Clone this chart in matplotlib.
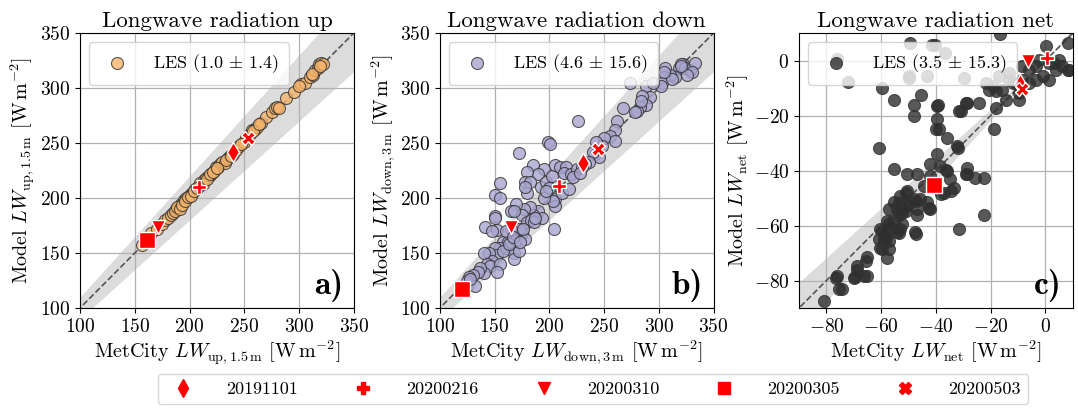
import numpy as np
import matplotlib
matplotlib.use("Agg")
import matplotlib.pyplot as plt
from matplotlib.lines import Line2D

plt.rcParams["font.family"] = "cmr10"
plt.rcParams["mathtext.fontset"] = "cm"
plt.rcParams["axes.formatter.use_mathtext"] = True
plt.rcParams["axes.unicode_minus"] = True

# ===============================
# DATA
# ===============================
# panel a: LW up
up_obs = [157, 160, 165, 170, 175, 178, 180, 183, 185, 188, 190, 192, 195, 197, 200,
          202, 205, 208, 210, 213, 215, 218, 220, 222, 224, 226, 228, 230, 232, 235,
          237, 240, 242, 245, 250, 252, 255, 257, 260, 262, 265, 270, 275, 278, 280,
          288, 295, 302, 305, 310, 313, 315, 317, 318, 320, 322,
          187, 189, 191, 193, 196, 199, 201, 204, 207, 212, 216, 219, 221, 225, 233,
          238, 247, 258, 263, 282, 300, 312, 319]
up_les = [157, 162, 168, 172, 176, 180, 182, 185, 186, 190, 192, 195, 198, 200, 203,
          205, 208, 210, 214, 216, 218, 220, 222, 225, 228, 228, 231, 233, 232, 236,
          238, 240, 244, 247, 251, 255, 258, 262, 263, 265, 268, 274, 278, 282, 283,
          291, 296, 304, 305, 310, 312, 316, 318, 322, 323, 322,
          188, 192, 190, 194, 197, 201, 202, 206, 209, 213, 217, 222, 224, 227, 235,
          238, 249, 261, 267, 282, 302, 313, 320]

# panel b: LW down
down_obs = [322, 318, 320, 324, 328, 333, 330, 315, 310, 306, 305, 303, 302, 312, 326, 320,
            274, 305, 288, 292, 295, 285, 288, 283, 280, 278, 284,
            267, 262, 260, 255, 260, 250, 248, 243, 242, 245, 240, 236, 233,
            226, 199, 201, 172,
            185, 195, 190, 180, 178, 182, 180, 178, 192, 197, 200, 202, 205, 210, 215, 213,
            220, 225, 230, 222, 228, 205, 205, 203, 204, 195, 197, 190, 193, 185, 182, 177,
            175, 180, 183, 186, 170, 165, 168, 155, 150, 155, 150, 150, 152, 141, 148, 158,
            160, 162, 165, 168, 168, 172, 170, 175, 178, 172, 165, 160, 155, 150, 152, 145,
            148, 140, 143, 146, 155, 152, 140, 137, 135, 130, 127, 125, 125, 122, 132, 128,
            158, 163, 167, 173, 176, 187, 212, 218]
down_les = [322, 318, 322, 318, 316, 323, 315, 310, 312, 318, 310, 305, 302, 308, 312, 320,
            305, 315, 302, 292, 305, 293, 285, 283, 279, 278, 288,
            282, 270, 262, 256, 252, 255, 247, 251, 240, 237, 242, 233, 231,
            270, 251, 249, 241,
            230, 226, 222, 224, 215, 215, 205, 210, 210, 215, 209, 220, 230, 228, 228, 223,
            222, 226, 228, 219, 223, 199, 193, 197, 172, 200, 206, 188, 182, 185, 192, 190,
            185, 178, 180, 178, 195, 188, 188, 214, 203, 200, 184, 182, 171, 174, 170, 160,
            155, 160, 160, 150, 145, 152, 162, 168, 163, 172, 172, 170, 155, 155, 148, 150,
            143, 150, 140, 138, 140, 133, 132, 136, 133, 130, 128, 125, 120, 118, 120, 126,
            152, 158, 165, 160, 172, 182, 205, 208]

# panel c: LW net
net_obs = [-76.0, -72.2, -49.3, -50.0, -40.2, -36.6, -41.3, -59.6, -49.9, -43.2, -55.3, -48.0,
           -45.6, -48.0, -60.8, -16.7, -29.9,
           -29.0, -31.5, -39.4, -38.8, -24.2, -18.0, -18.7, -32.0, -36.4,
           -21.8, -19.3, -15.7, -12.0, -8.4, -6.0, -3.5, -1.0, 1.4, 3.8, 6.2, 8.7, 5.0, 0.1,
           -3.5, -6.0, -9.6, -9.6, -14.5, -13.2, -16.9, -20.5, -18.0, -13.2, -10.8, -8.4,
           -2.3, 1.4, 3.2, 8.4, 8.4,
           -39.6, -39.6, -39.8, -36.0, -31.0, -28.7, -28.7, -28.7, -25.6, -22.6, -32.3,
           -22.4, -31.7, -55.4, -50.6, -46.9, -42.0, -39.6, -38.4, -36.0, -34.7, -33.5,
           -37.2, -42.0, -44.5, -50.6, -53.0, -55.4, -57.3, -54.2, -52.4, -50.6, -48.0,
           -46.9, -45.7, -43.3, -42.0, -57.9, -55.4, -60.3, -59.1, -57.9, -56.7, -57.3,
           -60.3, -53.0, -54.2, -47.5, -65.2, -68.8, -69.4, -65.2, -76.1, -74.3, -81.0,
           -29.0, -34.5, -38.2, -51.0, -53.5, -49.9, -47.4, -42.6, -46.8, -51.0, -53.5,
           -57.2, -59.6, -60.8, -58.4, -57.2, -53.5, -52.3, -47.4, -59.6, -57.8, -65.7,
           -68.7, -66.3, -69.9, -76.6, -75.4]
net_les = [0.4, -7.9, 6.4, -6.3, 5.8, 2.8, 5.8, -10.0, -5.8, -5.8, -14.2, -16.0,
           -12.4, -20.3, -31.8, 9.5, -6.3,
           -15.5, -18.5, -16.0, -25.0, -15.5, -17.3, -25.0, -31.8, -39.7,
           -8.2, -9.4, -10.6, -8.2, -7.0, -8.2, -7.0, -5.8, -7.0, -3.3, -2.1, -3.3, 0.3, 5.2,
           -2.1, -3.3, -11.8, -14.2, -14.2, -7.0, -5.8, -10.6, -11.2, -4.5, -8.2, -2.1,
           0.3, -0.9, -0.9, 6.4, -3.3,
           -16.6, -21.4, -25.0, -28.0, -18.4, -15.4, -39.0, -41.4, -42.6, -42.6, -31.0,
           -56.0, -61.3, -39.5, -41.4, -41.4, -37.7, -34.1, -38.3, -40.1, -43.2, -46.2,
           -48.0, -42.0, -45.6, -47.4, -49.2, -51.6, -54.0, -54.0, -55.3, -52.8, -50.4,
           -54.0, -50.4, -51.6, -54.0, -58.3, -58.3, -61.3, -64.9, -62.5, -61.3, -68.6,
           -68.0, -61.3, -62.5, -62.5, -71.6, -74.6, -78.8, -78.2, -78.2, -83.1, -87.3,
           -41.4, -47.5, -48.7, -48.0, -51.7, -51.7, -51.1, -53.5, -56.0, -54.7, -56.0,
           -59.6, -62.0, -65.0, -64.4, -65.7, -62.6, -59.6, -63.2, -68.7, -71.7, -72.9,
           -76.0, -78.4, -79.0, -79.0, -83.2]

# case days: (obs, model) per panel
days = ["20191101", "20200216", "20200310", "20200305", "20200503"]
day_markers = ["d", "P", "v", "s", "X"]
up_days_obs = [240, 209, 171, 161, 253]
up_days_les = [242, 210, 174, 162, 255]
down_days_obs = [231, 209, 165, 120, 244]
down_days_les = [232, 211, 174, 117, 245]
net_days_obs = [-9.2, 0.5, -6.2, -40.8, -8.6]
net_days_les = [-8.7, 1.0, -0.2, -45.3, -10.5]

stats = ["1.0 \\,\\pm\\, 1.4", "4.6 \\,\\pm\\, 15.6", "3.5 \\,\\pm\\, 15.3"]

# ===============================
# PLOT
# ===============================
fig = plt.figure(figsize=(10.78, 4.08), dpi=100)

panels = [
    dict(obs=up_obs, les=up_les, dobs=up_days_obs, dles=up_days_les,
         color="#f5b46a", alpha=0.8, lim=(100, 350), ticks=[100, 150, 200, 250, 300, 350],
         title="Longwave radiation up", sub=r"\mathrm{up,1.5\,m}", letter="a)",
         left=0.0742),
    dict(obs=down_obs, les=down_les, dobs=down_days_obs, dles=down_days_les,
         color="#a9a5cf", alpha=0.8, lim=(100, 350), ticks=[100, 150, 200, 250, 300, 350],
         title="Longwave radiation down", sub=r"\mathrm{down,3\,m}", letter="b)",
         left=0.408),
    dict(obs=net_obs, les=net_les, dobs=net_days_obs, dles=net_days_les,
         color="#2e2e2e", alpha=0.8, lim=(-90, 10), ticks=[-80, -60, -40, -20, 0],
         title="Longwave radiation net", sub=r"\mathrm{net}", letter="c)",
         left=0.7412),
]

for i, p in enumerate(panels):
    ax = fig.add_axes([p["left"], 0.245, 0.254, 0.674])
    lo, hi = p["lim"]
    xx = np.array([lo - 20, hi + 20])
    # +-10 % band around 1:1
    ax.fill_between(xx, xx * 0.9, xx * 1.1, color="#dcdcdc", lw=0, zorder=0)
    ax.plot(xx, xx, ls="--", color="#555555", lw=1.2, zorder=1)
    ax.grid(True, color="#b0b0b0", lw=0.9, zorder=0.5)
    ax.set_axisbelow(True)

    ax.scatter(p["obs"], p["les"], s=75, facecolor=p["color"], edgecolor="#333333",
               lw=0.8, alpha=p["alpha"], zorder=2,
               label=r"LES $(" + stats[i] + ")$")
    for k in range(len(days)):
        ax.plot(p["dobs"][k], p["dles"][k], ls="none", marker=day_markers[k],
                color="red", ms=11 if day_markers[k] == "s" else 10,
                mec="white", mew=1.0, zorder=3)

    ax.set_xlim(lo, hi)
    ax.set_ylim(lo, hi)
    ax.set_xticks(p["ticks"])
    ax.set_yticks(p["ticks"])
    ax.tick_params(labelsize=14)
    ax.set_title(p["title"], fontsize=16.5, pad=4)
    ax.set_xlabel(r"MetCity $LW_{" + p["sub"] + r"}$ $[\mathrm{W\,m^{-2}}]$",
                  fontsize=14.5, labelpad=2)
    ax.set_ylabel(r"Model $LW_{" + p["sub"] + r"}$ $[\mathrm{W\,m^{-2}}]$",
                  fontsize=14.5, labelpad=2)
    ax.legend(loc="upper left", fontsize=13, handletextpad=1.0, handlelength=2.0,
              borderpad=0.55)
    ax.text(0.96, 0.022, p["letter"], transform=ax.transAxes, ha="right", va="bottom",
            fontsize=24, family="cmb10")

handles = [Line2D([], [], ls="none", marker=m, color="red", ms=9) for m in day_markers]
fig.legend(handles, days, loc="center", bbox_to_anchor=(0.550, 0.046), ncol=5,
           fontsize=13, columnspacing=2.6, handletextpad=1.4, borderpad=0.4)

fig.savefig("out.png", dpi=100)
